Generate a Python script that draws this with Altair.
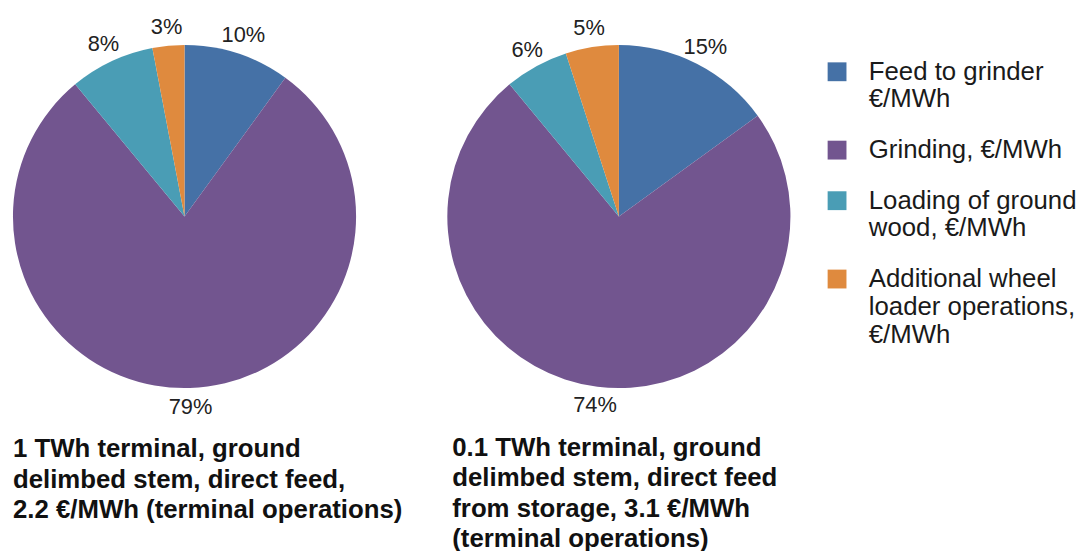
import altair as alt
import pandas as pd

categories = [
    "Feed to grinder\n€/MWh",
    "Grinding, €/MWh",
    "Loading of ground\nwood, €/MWh",
    "Additional wheel\nloader operations,\n€/MWh",
]
left_values = [10, 79, 8, 3]
right_values = [15, 74, 6, 5]
left_title = [
    "1 TWh terminal, ground",
    "delimbed stem, direct feed,",
    "2.2 €/MWh (terminal operations)",
]
right_title = [
    "0.1 TWh terminal, ground",
    "delimbed stem, direct feed",
    "from storage, 3.1 €/MWh",
    "(terminal operations)",
]
colors = ["#4571A6", "#72558F", "#4A9DB5", "#DF8A3E"]

FONT = "Liberation Sans"


def pie(values, title_lines, dx):
    df = pd.DataFrame({"category": categories, "value": values, "idx": list(range(len(values)))})
    base = alt.Chart(df).encode(
        theta=alt.Theta("value:Q", stack=True),
        order=alt.Order("idx:Q"),
    )
    arcs = base.mark_arc(outerRadius=173).encode(
        color=alt.Color(
            "category:N",
            scale=alt.Scale(domain=categories, range=colors),
            legend=alt.Legend(
                title=None,
                orient="none",
                legendX=817,
                legendY=41,
                symbolType="square",
                symbolSize=361,
                symbolStrokeWidth=0,
                labelFontSize=26,
                labelFont=FONT,
                labelColor="#1a1a1a",
                labelLimit=400,
                labelOffset=19,
                rowPadding=25,
                labelExpr="split(datum.label, '\\n')",
            ),
        )
    )
    labels = base.transform_calculate(label="datum.value + '%'").mark_text(
        radius=192, fontSize=22, font=FONT, color="#222222"
    ).encode(text="label:N")
    return alt.layer(arcs, labels).properties(
        width=344,
        height=400,
        title=alt.TitleParams(
            text=title_lines,
            orient="bottom",
            anchor="start",
            fontSize=26,
            fontWeight="bold",
            font=FONT,
            lineHeight=30.5,
            baseline="top",
            offset=19,
            dx=dx,
            color="#111111",
        ),
    )


chart = alt.hconcat(
    pie(left_values, left_title, 0),
    pie(right_values, right_title, 5),
    spacing=45,
).configure_view(stroke=None)

chart.save("out.html", embed_options={"renderer": "svg", "actions": False})
